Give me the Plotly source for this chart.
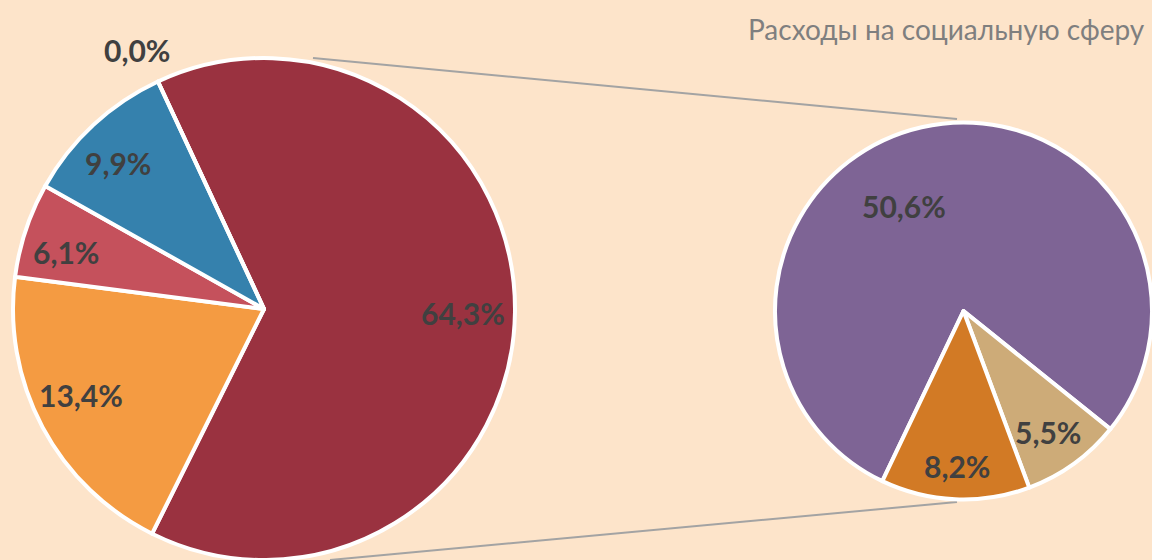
import math
import plotly.graph_objects as go

# ---------------- data ----------------
main_values = [64.3, 19.7, 6.1, 9.9, 0.0]          # slice shares (by drawn angle)
main_text = ["64,3%", "13,4%", "6,1%", "9,9%", "0,0%"]
main_colors = ["#9a3240", "#f49b42", "#c5515c", "#3581ad", "#8a8a8a"]

sub_values = [50.6, 5.5, 8.2]
sub_text = ["50,6%", "5,5%", "8,2%"]
sub_colors = ["#7e6495", "#cdab78", "#d27a25"]

title_text = "Расходы на социальную сферу"

# ---------------- layout config ----------------
W, H = 1152, 560
BG = "#fde4ca"
main_c, main_r, main_rot = (264, 310), 252, -25
sub_c, sub_r, sub_rot = (964, 311), 189, 205.5
main_label_k = [0.79, 0.80, 0.82, 0.82, 1.15]
main_label_shift = [0, 3, -2, -2, -1]
sub_label_k = [0.64, 0.78, 0.82]
sub_label_shift = [-17, 1, 0]


def domain(c, r):
    cx, cy = c
    x0, x1 = (cx - r) / W, (cx + r) / W
    y0, y1 = 1 - (cy + r) / H, 1 - (cy - r) / H
    return dict(x=[max(0, x0), min(1, x1)], y=[max(0, y0), min(1, y1)])


def label_positions(values, c, r, rot, ks, shifts):
    tot = sum(values)
    pos = []
    start = rot
    for v, k, s in zip(values, ks, shifts):
        span = 360 * v / tot
        a = math.radians(start + span / 2 + s)
        px = c[0] + k * r * math.sin(a)
        py = c[1] - k * r * math.cos(a)
        pos.append((px / W, 1 - py / H))
        start += span
    return pos


fig = go.Figure()
fig.add_trace(go.Pie(
    values=main_values, sort=False, direction="clockwise", rotation=main_rot,
    marker=dict(colors=main_colors, line=dict(color="white", width=4)),
    textinfo="none", hoverinfo="skip", domain=domain(main_c, main_r),
    showlegend=False,
))
fig.add_trace(go.Pie(
    values=sub_values, sort=False, direction="clockwise", rotation=sub_rot,
    marker=dict(colors=sub_colors, line=dict(color="white", width=4)),
    textinfo="none", hoverinfo="skip", domain=domain(sub_c, sub_r),
    showlegend=False,
))

label_font = dict(family="Lato, 'Open Sans', sans-serif", size=30, color="#404040")
annotations = []
for (x, y), t in zip(label_positions(main_values, main_c, main_r, main_rot,
                                     main_label_k, main_label_shift), main_text):
    annotations.append(dict(x=x, y=y, xref="paper", yref="paper", text=f"<b>{t}</b>",
                            xanchor="center", yanchor="middle",
                            showarrow=False, font=label_font))
for (x, y), t in zip(label_positions(sub_values, sub_c, sub_r, sub_rot,
                                     sub_label_k, sub_label_shift), sub_text):
    annotations.append(dict(x=x, y=y, xref="paper", yref="paper", text=f"<b>{t}</b>",
                            xanchor="center", yanchor="middle",
                            showarrow=False, font=label_font))

annotations.append(dict(x=1147 / W, y=1 - 29 / H, xref="paper", yref="paper",
                        xanchor="right", yanchor="middle", text=title_text,
                        showarrow=False,
                        font=dict(family="Lato, 'Open Sans', sans-serif", size=28,
                                  color="#7f7f7f")))

line_style = dict(color="#a3a3a3", width=2)
shapes = [
    dict(type="line", xref="paper", yref="paper",
         x0=313 / W, y0=1 - 58 / H, x1=957 / W, y1=1 - 119 / H, line=line_style, layer="below"),
    dict(type="line", xref="paper", yref="paper",
         x0=330 / W, y0=1 - 560 / H, x1=957 / W, y1=1 - 502 / H, line=line_style, layer="below"),
]

fig.update_layout(
    width=W, height=H, margin=dict(l=0, r=0, t=0, b=0),
    paper_bgcolor=BG, plot_bgcolor=BG,
    annotations=annotations, shapes=shapes,
)

fig.write_html("out.html", config={"displayModeBar": False},
               post_script="document.body.style.margin='0';document.body.style.overflow='hidden';")
